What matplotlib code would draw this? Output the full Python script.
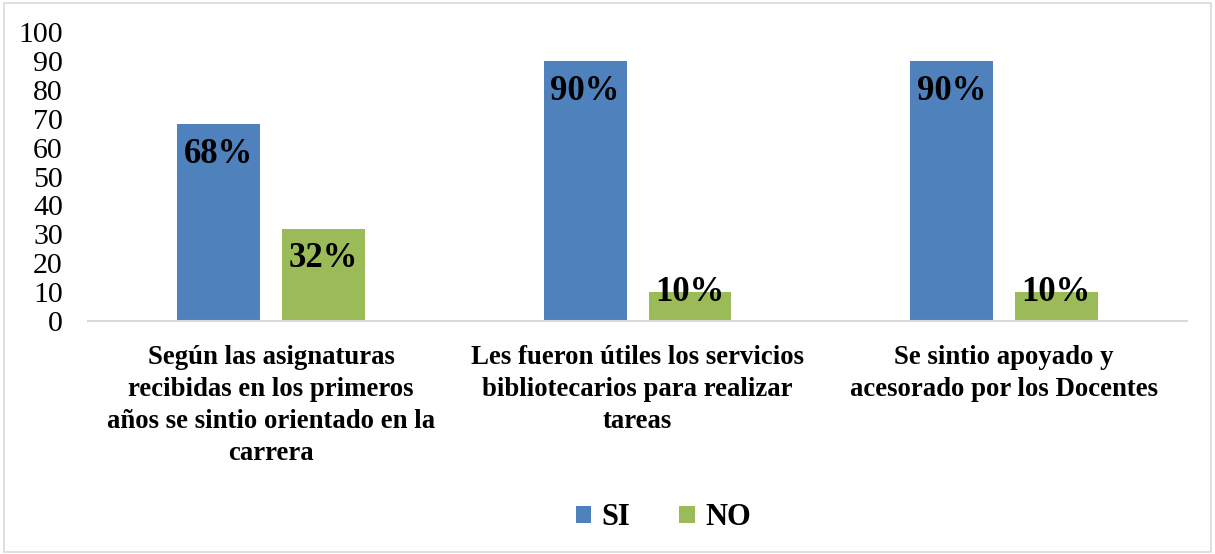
import matplotlib.pyplot as plt
import numpy as np
from matplotlib.patches import Rectangle

# Данные
categorias = [
    "Según las asignaturas\nrecibidas en los primeros\naños se sintio orientado en la\ncarrera",
    "Les fueron útiles los servicios\nbibliotecarios para realizar\ntareas",
    "Se sintio apoyado y\nacesorado por los Docentes",
]
si = [68, 90, 90]
no = [32, 10, 10]
series = ["SI", "NO"]
colores = ["#4F81BD", "#9BBB59"]

plt.rcParams['font.family'] = ['Liberation Serif', 'DejaVu Serif']

fig = plt.figure(figsize=(12.15, 5.54), dpi=100)
ax = fig.add_axes([0.0724, 0.4206, 0.9046, 0.5216])

x = np.arange(len(categorias))
ancho = 0.226
desp = 0.143

for valores, nombre, color, d in zip([si, no], series, colores, [-desp, desp]):
    barras = ax.bar(x + d, valores, width=ancho, color=color, label=nombre)
    for xb, v in zip(x + d, valores):
        # etiquetas dentro del extremo; las barras cortas centradas en el borde
        y = v - 10.5 if v > 20 else v
        ax.text(xb, y, f"{v}%", ha='center', va='center',
                fontsize=25, fontweight='bold', color='black')

ax.set_xlim(-0.5, 2.5)
ax.set_ylim(0, 100)
ax.set_yticks(range(0, 101, 10))
ax.tick_params(axis='y', length=0, labelsize=21.5, pad=18)
ax.tick_params(axis='x', length=0, pad=17)
ax.set_xticks(x)
ax.set_xticklabels(categorias, fontsize=19.3, fontweight='bold', linespacing=1.38)

for s in ['left', 'right', 'top']:
    ax.spines[s].set_visible(False)
ax.spines['bottom'].set_color('#D9D9D9')
ax.spines['bottom'].set_linewidth(1.5)

leg = fig.legend(loc='center', bbox_to_anchor=(0.546, 0.065), ncol=2, frameon=False,
                 prop={'size': 22, 'weight': 'bold'}, handlelength=0.5, handleheight=0.5,
                 handletextpad=0.35, columnspacing=1.6)

# borde de la figura
fig.patches.append(Rectangle((0.003, 0.004), 0.994, 0.991, transform=fig.transFigure,
                             fill=False, edgecolor='#D9D9D9', linewidth=1.2))

fig.savefig('out.png', dpi=100)
